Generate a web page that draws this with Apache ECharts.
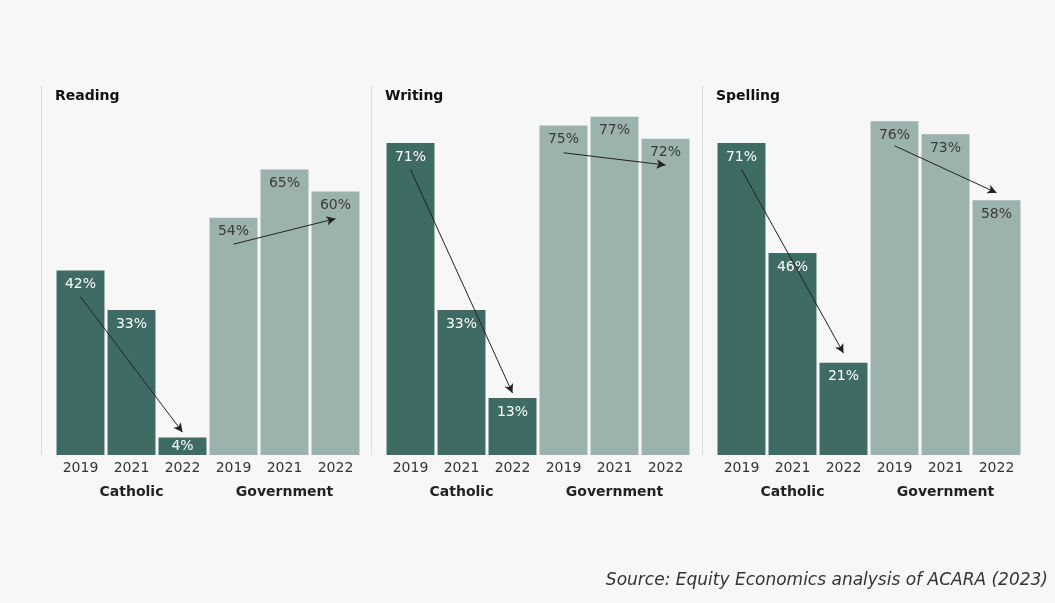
<!DOCTYPE html>
<html>
<head>
<meta charset="utf-8">
<script src="https://cdn.jsdelivr.net/npm/echarts@6/dist/echarts.min.js"></script>
<style>
html,body{margin:0;padding:0;background:#f7f7f7;}
#chart{width:1055px;height:603px;}
</style>
</head>
<body>
<div id="chart"></div>
<script>
const subjects = ['Reading', 'Writing', 'Spelling'];
const years = ['2019', '2021', '2022', '2019', '2021', '2022'];
const sectors = ['Catholic', 'Government'];
const reading = [42, 33, 4, 54, 65, 60];
const writing = [71, 33, 13, 75, 77, 72];
const spelling = [71, 46, 21, 76, 73, 58];
// arrow start / end values (value-axis units)
const catholicArrows = [[36, 5.2], [65, 14.1], [65, 23.2]];
const governmentArrows = [[48, 53.8], [68.8, 66], [70.4, 59.7]];
const source = 'Source: Equity Economics analysis of ACARA (2023)';

const values = [reading, writing, spelling];
const FONT = 'DejaVu Sans';
const DARK = '#3e6b63';
const LIGHT = '#9bb2ad';
const gridLefts = [55, 385, 716];
const gridWidth = 306;

const grids = [], xAxes = [], yAxes = [], series = [], titles = [];
subjects.forEach((s, i) => {
  grids.push({left: gridLefts[i], width: gridWidth, top: 86, bottom: 148});
  titles.push({text: s, left: gridLefts[i], top: 89, padding: 0,
    textStyle: {fontFamily: FONT, fontSize: 14, fontWeight: 'bold', color: '#111'}});
  xAxes.push({type: 'category', gridIndex: i, data: years,
    axisLine: {show: false}, axisTick: {show: false},
    axisLabel: {fontFamily: FONT, fontSize: 14, color: '#333', margin: 6}});
  xAxes.push({type: 'category', gridIndex: i, data: sectors, position: 'bottom', offset: 24,
    axisLine: {show: false}, axisTick: {show: false},
    axisLabel: {fontFamily: FONT, fontSize: 14, fontWeight: 'bold', color: '#222', margin: 6}});
  yAxes.push({type: 'value', gridIndex: i, min: 0, max: 84, offset: 14,
    axisLine: {show: true, lineStyle: {color: '#dcdcdc', width: 1}},
    axisTick: {show: false}, axisLabel: {show: false}, splitLine: {show: false}});
  series.push({
    type: 'bar', xAxisIndex: i * 2, yAxisIndex: i,
    barCategoryGap: '6%',
    data: values[i].map((v, j) => {
      const dark = j < 3;
      const item = {value: v, itemStyle: {color: dark ? DARK : LIGHT},
        label: {color: dark ? '#ffffff' : '#3a3a3a'}};
      if (v < 8) { item.label.position = 'inside'; }
      return item;
    }),
    label: {show: true, position: 'insideTop', distance: 7, fontFamily: FONT, fontSize: 14,
      formatter: p => p.value + '%'},
    markLine: {
      silent: true, animation: false,
      symbol: ['none', 'arrow'], symbolSize: [7, 9],
      lineStyle: {color: '#222', width: 1, type: 'solid'},
      label: {show: false},
      data: [
        [{coord: [0, catholicArrows[i][0]]}, {coord: [2, catholicArrows[i][1]]}],
        [{coord: [3, governmentArrows[i][0]]}, {coord: [5, governmentArrows[i][1]]}]
      ]
    }
  });
});
titles.push({text: source, right: 7, top: 572, padding: 0,
  textStyle: {fontFamily: FONT, fontSize: 17, fontStyle: 'italic', fontWeight: 'normal', color: '#333'}});

const chart = echarts.init(document.getElementById('chart'), null, {renderer: 'canvas'});
chart.setOption({
  backgroundColor: '#f7f7f7',
  animation: false,
  title: titles,
  grid: grids,
  xAxis: xAxes,
  yAxis: yAxes,
  series: series
});
</script>
</body>
</html>
